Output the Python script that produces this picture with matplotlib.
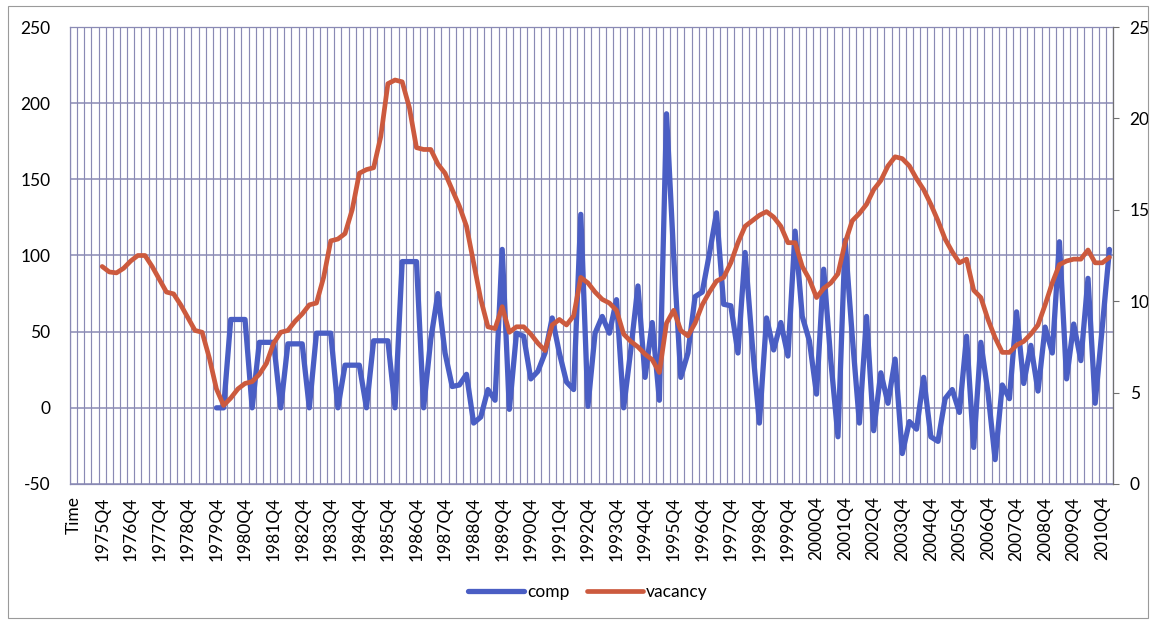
import matplotlib.pyplot as plt
import numpy as np
from matplotlib.patches import Rectangle

plt.rcParams['font.family'] = ['Lato', 'DejaVu Sans']
plt.rcParams['axes.unicode_minus'] = False

# category axis: header cell "Time" then quarters 1975Q1 .. 2011Q1
categories = ["Time"] + [f"{y}Q{q}" for y in range(1975, 2011) for q in range(1, 5)] + ["2011Q1"]

# vacancy (right axis, %) starts at 1975Q4
vacancy_start = "1975Q4"
vacancy_vals = [
    11.9, 11.6, 11.55, 11.8, 12.2, 12.5, 12.5, 11.9, 11.2, 10.5, 10.4, 9.8,
    9.1, 8.4, 8.3, 6.9, 5.2, 4.3, 4.7, 5.2, 5.5, 5.6, 6.0, 6.6,
    7.7, 8.3, 8.4, 8.9, 9.3, 9.8, 9.9, 11.3, 13.3, 13.4, 13.7, 15.0,
    17.0, 17.2, 17.3, 19.0, 21.9, 22.1, 22.0, 20.6, 18.4, 18.3, 18.3, 17.5,
    17.0, 16.1, 15.2, 14.1, 12.1, 10.1, 8.6, 8.5, 9.7, 8.3, 8.6, 8.6,
    8.2, 7.7, 7.3, 8.7, 9.0, 8.7, 9.2, 11.3, 11.0, 10.5, 10.1, 9.9,
    9.5, 8.2, 7.8, 7.5, 7.1, 6.8, 6.1, 8.8, 9.5, 8.4, 8.1, 8.8,
    9.8, 10.5, 11.1, 11.3, 12.1, 13.2, 14.1, 14.4, 14.7, 14.9, 14.6, 14.1,
    13.2, 13.2, 11.9, 11.2, 10.2, 10.7, 11.0, 11.5, 13.2, 14.4, 14.8, 15.3,
    16.1, 16.6, 17.4, 17.9, 17.8, 17.4, 16.7, 16.1, 15.3, 14.4, 13.4, 12.7,
    12.1, 12.3, 10.6, 10.2, 9.0, 8.0, 7.2, 7.2, 7.6, 7.8, 8.2, 8.7,
    9.8, 11.0, 12.0, 12.2, 12.3, 12.3, 12.8, 12.1, 12.1, 12.4,
]

# comp (left axis) starts at 1979Q4
comp_start = "1979Q4"
comp_vals = [
    0, 0, 58, 58, 58, 0, 43, 43, 43, 0, 42, 42,
    42, 0, 49, 49, 49, 0, 28, 28, 28, 0, 44, 44,
    44, 0, 96, 96, 96, 0, 45, 75, 36, 14, 15, 22,
    -10, -6, 12, 5, 104, -1, 49, 47, 19, 24, 36, 59,
    36, 17, 12, 127, 1, 49, 60, 49, 71, 0, 38, 80,
    20, 56, 5, 193, 100, 20, 36, 73, 76, 101, 128, 68,
    67, 36, 102, 42, -10, 59, 38, 56, 34, 116, 60, 44,
    9, 91, 31, -19, 110, 47, -10, 60, -15, 23, 3, 32,
    -30, -9, -14, 20, -19, -22, 6, 12, -3, 47, -26, 43,
    10, -34, 15, 6, 63, 16, 41, 11, 53, 36, 109, 19,
    55, 31, 85, 3, 53, 104,
]

n = len(categories)
x = np.arange(n)
vacancy = np.full(n, np.nan)
i0 = categories.index(vacancy_start)
vacancy[i0:i0 + len(vacancy_vals)] = vacancy_vals
comp = np.full(n, np.nan)
i0 = categories.index(comp_start)
comp[i0:i0 + len(comp_vals)] = comp_vals

grid_col = '#8a8ab4'
blue = '#4a5ec4'
red = '#cc5a3e'

W, H = 1151, 621
fig = plt.figure(figsize=(W / 100, H / 100), dpi=100)
fig.patches.append(Rectangle((8 / W, 3 / H), 1140 / W, 612 / H, transform=fig.transFigure,
                             fill=False, edgecolor='#9a9a9a', lw=0.8))

ax = fig.add_axes([70 / W, 1 - 484 / H, (1113 - 70) / W, (484 - 27) / H])
ax2 = ax.twinx()

# comp on primary axis
line1, = ax.plot(x, comp, color=blue, lw=3.8, solid_joinstyle='round',
                 solid_capstyle='round', label='comp')
ax.set_ylim(-50, 250)
ax.set_yticks(range(-50, 251, 50))
ax.set_xlim(-0.5, n - 0.5)
ax.set_xticks(x[::4])
ax.set_xticklabels(categories[::4], rotation=90)
ax.set_xticks(np.arange(-0.5, n, 1), minor=True)
ax.grid(which='minor', axis='x', color=grid_col, lw=0.85)
ax.grid(which='major', axis='y', color=grid_col, lw=1.1)
ax.tick_params(axis='x', which='both', length=0, labelsize=12.5, pad=9)
ax.tick_params(axis='y', length=0, labelsize=12.5, pad=14)
for s in ax.spines.values():
    s.set_color(grid_col)
    s.set_linewidth(0.9)

# vacancy on secondary axis
line2, = ax2.plot(x, vacancy, color=red, lw=3.4, solid_joinstyle='round',
                  solid_capstyle='round', label='vacancy')
ax2.set_ylim(0, 25)
ax2.set_yticks(range(0, 26, 5))
ax2.tick_params(axis='y', length=4, color='#707070', labelsize=12.5, pad=8)
for k, s in ax2.spines.items():
    s.set_visible(k == 'right')
ax2.spines['right'].set_color('#707070')

fig.legend([line1, line2], ['comp', 'vacancy'], loc='center',
           bbox_to_anchor=(588 / W, 1 - 592 / H), ncol=2, frameon=False,
           handlelength=3.2, handletextpad=0.2, columnspacing=1.0, fontsize=12.5)

fig.savefig('out.png', dpi=100)
